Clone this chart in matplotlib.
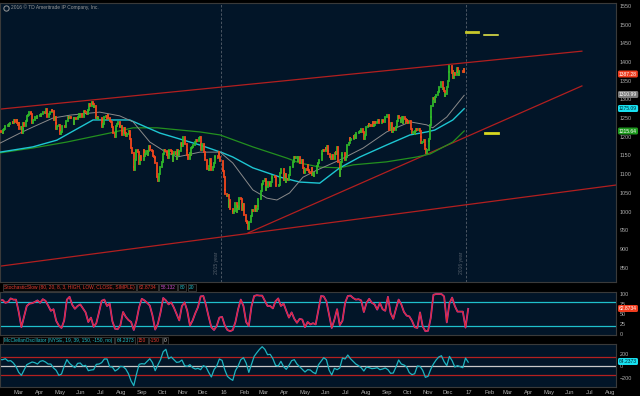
#!/usr/bin/env python3

## small-cap index daily chart in the dark trading-platform look:
##   price candles + 3 moving averages + trendlines,
##   StochasticSlow and McClellan oscillator panels underneath

import numpy as np
import pandas as pd
import matplotlib
matplotlib.use("Agg")
import matplotlib.pyplot as plt
from matplotlib.transforms import IdentityTransform, ScaledTranslation

## ---------------- data ----------------

# daily closes, one row per trading week, 2015-02-05 .. 2016-12-30
closes = [
    1215, 1214,
    1210, 1218, 1220, 1228, 1230,
    1232, 1230, 1234, 1238,
    1236, 1240, 1238, 1244, 1240,
    1244, 1236, 1232, 1238, 1222,
    1227, 1210, 1220, 1238, 1230,
    1242, 1244, 1256, 1258, 1266,
    1264, 1260, 1238, 1238, 1244,
    1254, 1252, 1250, 1255,
    1258, 1255, 1262, 1262, 1267,
    1264, 1263, 1275, 1273, 1253,
    1262, 1265, 1267, 1272, 1268,
    1245, 1253, 1236, 1221, 1229,
    1232, 1215, 1208, 1212, 1230,
    1230, 1228, 1226, 1241, 1243,
    1252, 1250, 1252, 1252, 1249,
    1234, 1249, 1250, 1247,
    1249, 1252, 1262, 1252, 1261,
    1254, 1254, 1266, 1268, 1266,
    1262, 1268, 1271, 1287, 1283,
    1290, 1294, 1287, 1280, 1283,
    1250, 1253, 1248, 1249,
    1250, 1245, 1227, 1233, 1253,
    1256, 1255, 1247, 1258, 1250,
    1243, 1240, 1232, 1225, 1210,
    1199, 1214, 1228, 1234, 1239,
    1229, 1226, 1230, 1215, 1206,
    1224, 1209, 1208, 1201, 1207,
    1215, 1204, 1194, 1171, 1156,
    1120, 1111, 1139, 1162, 1164,
    1159, 1128, 1146, 1149, 1138,
    1165, 1149, 1155, 1163,
    1151, 1163, 1175, 1173, 1166,
    1162, 1148, 1146, 1144, 1129,
    1093, 1083, 1101, 1100, 1118,
    1133, 1138, 1154, 1164, 1162,
    1160, 1152, 1143, 1161, 1165,
    1162, 1153, 1136, 1150, 1160,
    1153, 1141, 1166, 1151, 1161,
    1180, 1184, 1176, 1180, 1199,
    1180, 1181, 1165, 1150, 1141,
    1157, 1150, 1170, 1172, 1177,
    1179, 1187, 1191, 1190,
    1198, 1200, 1180, 1164, 1180,
    1159, 1150, 1137, 1139, 1114,
    1111, 1123, 1141, 1126, 1110,
    1120, 1131, 1146, 1148,
    1142, 1160, 1147, 1136,
    1111, 1109, 1092, 1057, 1046,
    1042, 1044, 1013, 1030, 1007,
    1001, 995, 1001, 1022,
    999, 1016, 1012, 1008, 1035,
    1034, 1003, 1012, 1020, 990,
    976, 973, 969, 953, 971,
    987, 1005, 1001, 1001,
    1016, 1002, 1007, 1016, 1034,
    1033, 1056, 1070, 1075, 1082,
    1087, 1057, 1066, 1065, 1079,
    1074, 1069, 1078, 1091, 1096,
    1094, 1093, 1069, 1068,
    1070, 1093, 1103, 1114, 1114,
    1102, 1085, 1100, 1080, 1087,
    1085, 1097, 1120, 1120, 1120,
    1132, 1139, 1146, 1142, 1145,
    1135, 1145, 1146, 1130, 1131,
    1138, 1116, 1105, 1103, 1113,
    1111, 1124, 1110, 1107, 1104,
    1116, 1099, 1102, 1094, 1104,
    1102, 1121, 1127, 1131, 1139,
    1155, 1161, 1164, 1163,
    1170, 1168, 1176, 1163, 1155,
    1145, 1140, 1147, 1150, 1141,
    1157, 1159, 1154, 1174, 1133,
    1095, 1114, 1132, 1152, 1156,
    1137, 1146, 1147, 1177,
    1183, 1198, 1192, 1193, 1195,
    1202, 1197, 1205, 1198, 1209,
    1211, 1214, 1215, 1214, 1220,
    1213, 1193, 1203, 1206, 1225,
    1228, 1233, 1229, 1232, 1228,
    1239, 1228, 1231, 1239, 1238,
    1239, 1245, 1237, 1237, 1236,
    1246, 1242, 1239, 1240, 1252,
    1258, 1259, 1251, 1219,
    1237, 1212, 1212, 1224, 1219,
    1227, 1225, 1241, 1256, 1249,
    1239, 1246, 1254, 1237, 1252,
    1248, 1237, 1244, 1241, 1236,
    1243, 1220, 1222, 1211, 1214,
    1208, 1216, 1221, 1221, 1218,
    1222, 1215, 1200, 1183, 1187,
    1191, 1177, 1168, 1157, 1164,
    1190, 1193, 1231, 1253, 1282,
    1305, 1301, 1294, 1307, 1311,
    1319, 1323, 1334, 1347,
    1328, 1330, 1322, 1308, 1315,
    1333, 1349, 1372, 1388, 1389,
    1370, 1375, 1356, 1371, 1364,
    1372, 1385, 1373, 1365, 1376,
    1377, 1372, 1380, 1372,
]
holidays = ['2015-02-16', '2015-04-03', '2015-05-25', '2015-07-03', '2015-09-07',
            '2015-11-26', '2015-12-25', '2016-01-01', '2016-01-18', '2016-02-15',
            '2016-03-25', '2016-05-30', '2016-07-04', '2016-09-05', '2016-11-24',
            '2016-12-26']

# moving averages
sma50_dates = ['2015-02-05', '2015-03-07', '2015-03-26', '2015-04-25', '2015-05-21',
               '2015-07-04', '2015-08-03', '2015-08-23', '2015-09-17', '2015-10-10',
               '2015-10-28', '2015-12-01', '2015-12-31', '2016-01-19', '2016-02-18',
               '2016-03-10', '2016-03-25', '2016-04-13', '2016-05-03', '2016-05-24',
               '2016-06-27', '2016-08-01', '2016-09-05', '2016-10-10', '2016-11-04',
               '2016-11-13', '2016-12-04', '2016-12-30']
sma50 = [1183, 1210, 1226, 1250, 1258, 1266, 1256, 1240, 1186, 1160,
         1146, 1159, 1159, 1130, 1058, 1036, 1031, 1050, 1092, 1111,
         1138, 1170, 1213, 1240, 1232, 1224, 1253, 1310.99]

sma100_dates = ['2015-02-05', '2015-03-26', '2015-05-01', '2015-06-24', '2015-08-18',
                '2015-10-02', '2015-12-01', '2016-01-04', '2016-01-19', '2016-02-18',
                '2016-03-30', '2016-04-28', '2016-05-28', '2016-06-27', '2016-07-27',
                '2016-09-05', '2016-10-10', '2016-11-04', '2016-11-16', '2016-12-13',
                '2016-12-30']
sma100 = [1159, 1173, 1191, 1245, 1245, 1210, 1178, 1157, 1146, 1117,
          1092, 1079, 1076, 1117, 1146, 1178, 1205, 1213, 1218, 1245,
          1275.09]

sma200_dates = ['2015-02-05', '2015-03-26', '2015-05-16', '2015-07-19', '2015-08-23',
                '2015-09-28', '2015-12-01', '2015-12-31', '2016-02-18', '2016-04-09',
                '2016-04-28', '2016-05-28', '2016-06-27', '2016-07-17', '2016-09-05',
                '2016-10-20', '2016-11-09', '2016-12-13', '2016-12-30']
sma200 = [1157, 1170, 1186, 1210, 1224, 1224, 1213, 1205, 1173, 1143,
          1130, 1119, 1117, 1125, 1133, 1146, 1154, 1186, 1215.64]

# trendlines (two anchor points each)
upper_dates = ['2015-02-05', '2017-06-24']
upper_vals = [1274, 1429]
channel_dates = ['2015-02-05', '2017-08-14']
channel_vals = [854, 1071]
support_dates = ['2016-02-11', '2017-06-24']
support_vals = [943, 1336]

# projection marks
marks = [('2017-01-01', '2017-01-20', 1480), ('2017-01-29', '2017-02-18', 1472),
         ('2017-01-30', '2017-02-18', 1210)]

# oscillators, every 4 calendar days from 2015-02-05
stoch = [84, 85, 78, 80, 89, 86, 86, 55, 17, 44,
         70, 76, 77, 80, 84, 78, 87, 83, 71, 58,
         62, 33, 21, 15, 34, 86, 93, 73, 63, 70,
         74, 64, 54, 30, 41, 18, 27, 54, 83, 86,
         70, 76, 32, 13, 12, 22, 55, 43, 35, 30,
         10, 33, 67, 88, 84, 78, 71, 46, 11, 25,
         54, 90, 84, 74, 79, 66, 50, 34, 70, 79,
         58, 21, 34, 52, 67, 94, 95, 72, 43, 17,
         10, 20, 41, 43, 22, 10, 7, 10, 30, 62,
         86, 70, 30, 20, 69, 95, 97, 96, 96, 83,
         70, 70, 64, 82, 89, 70, 76, 58, 41, 54,
         38, 28, 38, 36, 17, 30, 24, 27, 24, 60,
         95, 94, 82, 48, 15, 36, 62, 22, 33, 78,
         95, 96, 90, 86, 87, 84, 55, 78, 88, 78,
         74, 61, 78, 62, 58, 93, 52, 38, 63, 86,
         74, 55, 46, 44, 33, 17, 15, 54, 19, 7,
         8, 40, 98, 100, 100, 100, 94, 29, 77, 91,
         70, 56, 56, 56, 16, 62.87]

mcclellan = [106, 106, 122, 83, 89, 50, -11, -106, -156, -67,
             22, 44, 67, 56, 33, 78, 89, 67, 33, 33,
             -33, -72, -156, -133, 0, 106, 44, 6, -28, 44,
             50, 0, 11, -78, -67, -61, 28, 33, 56, 117,
             117, -11, -17, -83, -56, -6, -11, -50, -128, -250,
             -328, -139, 28, 39, 33, 78, 122, 56, -78, 17,
             106, 239, 278, 122, 150, 106, 61, 67, 100, 6,
             -6, 22, -28, -50, -39, -61, 6, -17, -106, -183,
             -61, 0, 117, 94, -61, -172, -211, -239, -78, 0,
             106, 139, 50, -106, 28, 161, 222, 278, 322, 278,
             189, 195, 122, 11, 0, 78, -11, -56, 11, 89,
             106, 33, -11, -56, -100, -61, -67, -106, -128, 17,
             78, 139, 106, -67, -150, -39, -61, -33, 133, 117,
             183, 122, 78, 33, 6, -28, -83, -17, -28, -44,
             -39, -28, -61, -50, -33, -61, -122, -117, -17, 100,
             33, 17, -17, -111, -144, -128, 0, -6, -72, -189,
             -172, -56, 33, 100, 150, 172, 72, 6, 161, 89,
             -17, 6, -11, -28, 133, 64.24]

month_labels = ['Mar', 'Apr', 'May', 'Jun', 'Jul', 'Aug', 'Sep', 'Oct', 'Nov', 'Dec',
                '16', 'Feb', 'Mar', 'Apr', 'May', 'Jun', 'Jul', 'Aug', 'Sep', 'Oct',
                'Nov', 'Dec', '17', 'Feb', 'Mar', 'Apr', 'May', 'Jun', 'Jul', 'Aug']

## ---------------- style ----------------

BG = '#000000'
PANEL = '#021528'
UP = '#2fb82a'
DOWN = '#f4471c'
TREND = '#b21f1f'
GREY = '#8a8a8a'
CYAN = '#1ec6d2'
GREEN = '#23901f'
TXT = '#b0b0b0'
FONT = ['Liberation Sans', 'DejaVu Sans']
plt.rcParams['font.family'] = FONT

W, H = 640, 396
fig = plt.figure(figsize=(W / 100, H / 100), dpi=100, facecolor=BG)


def box(x0, y0, x1, y1):
    return [x0 / W, 1 - y1 / H, (x1 - x0) / W, (y1 - y0) / H]


x_left = pd.Timestamp('2015-02-05')
x_right = pd.Timestamp('2017-08-14')

ax = fig.add_axes(box(0, 3, 616, 282))
ax_st = fig.add_axes(box(0, 292, 616, 335))
ax_mc = fig.add_axes(box(0, 344, 616, 387))

for a in (ax, ax_st, ax_mc):
    a.set_facecolor(PANEL)
    a.set_xlim(x_left, x_right)
    a.set_xticks([])
    a.yaxis.tick_right()
    a.tick_params(axis='y', length=0, labelsize=3.9, labelcolor=TXT, pad=2.5)
    for s in a.spines.values():
        s.set_color('#3a3a3a')
        s.set_linewidth(0.8)

## ---------------- price panel ----------------

dates = pd.bdate_range('2015-02-05', periods=len(closes), freq='C', holidays=holidays)
c = np.array(closes, dtype=float)
o = np.r_[c[0], c[:-1]]
cols = np.where(c >= o, UP, DOWN)
bars = ax.vlines(dates, np.minimum(o, c), np.maximum(o, c), colors=cols, lw=1.3, zorder=4)
bars.set_capstyle('projecting')

ax.plot(pd.to_datetime(sma200_dates), sma200, color=GREEN, lw=0.9, zorder=3)
ax.plot(pd.to_datetime(sma100_dates), sma100, color=CYAN, lw=1.0, zorder=3)
ax.plot(pd.to_datetime(sma50_dates), sma50, color=GREY, lw=0.7, zorder=3)

for d, v in ((upper_dates, upper_vals), (channel_dates, channel_vals),
             (support_dates, support_vals)):
    ax.plot(pd.to_datetime(d), v, color=TREND, lw=0.9, zorder=2)

for (d0, d1, v), lw, col in zip(marks, (2.0, 1.1, 2.0), ('#c8c82a', '#f2f24a', '#d8d820')):
    ax.plot([pd.Timestamp(d0), pd.Timestamp(d1)], [v, v], color=col, lw=lw, zorder=5)

for yr in ('2016-01-01', '2017-01-01'):
    ax.axvline(pd.Timestamp(yr), color='#56606c', lw=0.6, ls=(0, (3, 2)), zorder=1)
ax.text(pd.Timestamp('2015-12-26'), 0.07, '2015 year', rotation=90, fontsize=3.6,
        color='#56606c', transform=ax.get_xaxis_transform(), ha='center', va='center')
ax.text(pd.Timestamp('2016-12-26'), 0.07, '2016 year', rotation=90, fontsize=3.6,
        color='#56606c', transform=ax.get_xaxis_transform(), ha='center', va='center')

ax.set_ylim(811.7, 1557.8)
ax.set_yticks(range(850, 1551, 50))

fig.text(11 / W, 1 - 7.5 / H, '2016 \u00a9 TD Ameritrade IP Company, Inc.', fontsize=3.5,
         color='#9a9a9a', va='center', ha='left')
ax.plot([5.5], [H - 7.5], marker='o', ms=3.8, mfc='none', mec='#9a9a9a', mew=0.7,
        transform=IdentityTransform(), clip_on=False)

## ---------------- stochastic ----------------

sdates = pd.date_range('2015-02-05', periods=len(stoch), freq='4D')
ax_st.axhline(80, color='#1fc0cc', lw=0.9)
ax_st.axhline(20, color='#1fc0cc', lw=0.9)
ax_st.plot(sdates, stoch, color='#b83cc0', lw=1.3)
ax_st.plot(sdates, stoch, color='#e0282c', lw=0.8)
ax_st.set_ylim(-2.5, 105)
ax_st.set_yticks([0, 25, 50, 75, 100])

## ---------------- McClellan ----------------

mdates_ = pd.date_range('2015-02-05', periods=len(mcclellan), freq='4D')
ax_mc.axhline(150, color='#b42020', lw=0.9)
ax_mc.axhline(-150, color='#b42020', lw=0.9)
ax_mc.axhline(0, color='#c8c8c8', lw=0.9)
ax_mc.plot(mdates_, mcclellan, color='#1fb4c0', lw=0.9)
ax_mc.set_ylim(-350, 367)
ax_mc.set_yticks([-200, 0, 200])

# month labels under the bottom panel
shift = ScaledTranslation(3 / 100, 0, fig.dpi_scale_trans)
mstarts = pd.date_range('2015-03-01', periods=len(month_labels), freq='MS')
for d, lab in zip(mstarts, month_labels):
    ax_mc.text(d, -0.12, lab, fontsize=4.2, color=TXT, ha='center', va='center',
               transform=ax_mc.get_xaxis_transform() + shift, clip_on=False)

## ---------------- headers & value boxes ----------------

renderer = fig.canvas.get_renderer()


def header(items, y):
    x = 4
    for txt, col in items:
        t = fig.text(x / W, 1 - y / H, txt, color=col, fontsize=3.5, va='center', ha='left',
                     bbox=dict(boxstyle='square,pad=0.3', fc='#060606', ec='#3c3c3c', lw=0.6))
        x = t.get_window_extent(renderer).x1 + 4


header([('StochasticSlow (80, 20, 8, 3, HIGH, LOW, CLOSE, SIMPLE)', '#e23a30'),
        ('62.8734', '#e23a30'), ('58.132', '#c84cc8'), ('80', '#1fc0cc'), ('20', '#1fc0cc')],
       287.5)
header([('McClellanOscillator (NYSE, 19, 39, 150, -150, no)', '#1fc0cc'),
        ('64.2373', '#1fc0cc'), ('150', '#e23a30'), ('-150', '#e23a30'), ('0', '#d0d0d0')],
       340.5)


def tag(y, txt, fc, tc):
    fig.text(619 / W, 1 - y / H, txt, color=tc, fontsize=3.6, va='center', ha='left',
             bbox=dict(boxstyle='round,pad=0.2,rounding_size=0.3', fc=fc, ec='none'))


tag(74, '1387.28', '#f03c1e', '#ffffff')
tag(94.5, '1310.99', '#7a7a7a', '#ffffff')
tag(108.5, '1275.09', '#18e0f0', '#002830')
tag(131, '1215.64', '#1e9a1e', '#ffffff')
tag(308.5, '62.8734', '#f03c1e', '#ffffff')
tag(361.5, '64.2373', '#18e0f0', '#002830')

fig.savefig('out.png', dpi=100, facecolor=BG)
